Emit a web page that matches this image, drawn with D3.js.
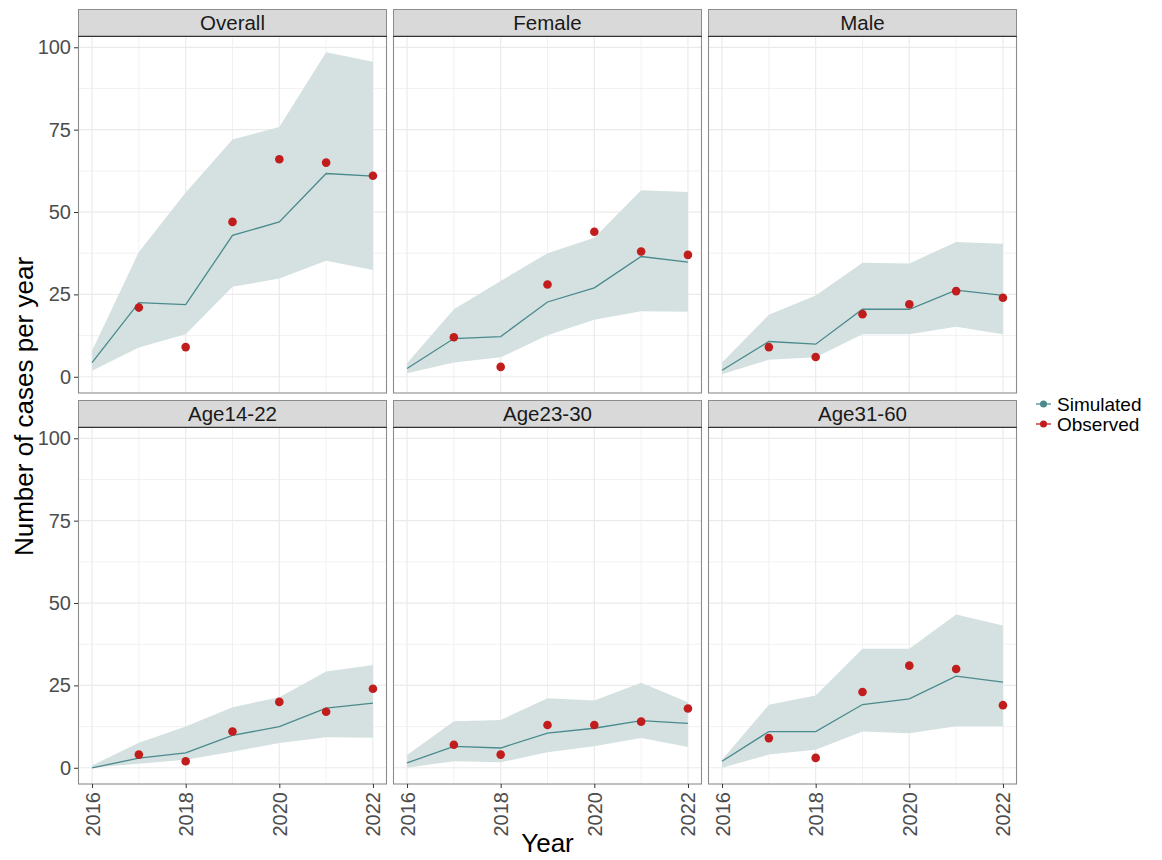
<!DOCTYPE html>
<html>
<head>
<meta charset="utf-8">
<script src="https://cdn.jsdelivr.net/npm/d3@7"></script>
<style>
	body { margin: 0; background: #fff; }
	text { font-family: "Liberation Sans", Arial, sans-serif; }
</style>
</head>
<body>
<div id="chart"></div>
<script>

var panels = ["Overall", "Female", "Male", "Age14-22", "Age23-30", "Age31-60"]
var years = [2016, 2017, 2018, 2019, 2020, 2021, 2022]
var obsYears = [2017, 2018, 2019, 2020, 2021, 2022]
var xTicks = [2016, 2018, 2020, 2022]
var yTicks = [0, 25, 50, 75, 100]

// one row per panel, same order as panels
var simMedian = [
	[4.3, 22.5, 21.9, 42.9, 47.0, 61.7, 60.9],
	[2.5, 11.6, 12.2, 22.7, 27.0, 36.5, 34.8],
	[2.0, 10.7, 9.9, 20.5, 20.5, 26.3, 24.7],
	[0.0, 2.9, 4.5, 9.8, 12.5, 18.1, 19.6],
	[1.5, 6.5, 6.0, 10.5, 12.0, 14.3, 13.5],
	[2.0, 11.0, 11.0, 19.2, 20.9, 27.8, 26.0]
]
var simLower = [
	[1.8, 8.9, 12.9, 27.3, 29.8, 35.2, 32.4],
	[1.1, 4.3, 5.9, 12.6, 17.3, 19.9, 19.7],
	[0.8, 5.2, 5.9, 12.9, 12.9, 15.2, 12.9],
	[0.0, 1.2, 2.4, 4.9, 7.5, 9.3, 9.1],
	[0.0, 2.0, 1.7, 4.7, 6.5, 9.0, 6.3],
	[0.0, 4.0, 5.5, 11.0, 10.5, 12.6, 12.6]
]
var simUpper = [
	[7.9, 37.9, 55.9, 72.0, 75.8, 98.5, 95.6],
	[4.1, 20.5, 29.1, 37.5, 42.2, 56.6, 56.1],
	[4.3, 18.8, 24.7, 34.6, 34.4, 40.9, 40.4],
	[0.7, 7.6, 12.5, 18.4, 21.4, 29.2, 31.2],
	[3.9, 14.1, 14.5, 21.1, 20.4, 25.8, 19.9],
	[2.4, 19.1, 21.9, 36.1, 36.1, 46.5, 43.2]
]
var observed = [
	[21, 9, 47, 66, 65, 61],
	[12, 3, 28, 44, 38, 37],
	[9, 6, 19, 22, 26, 24],
	[4, 2, 11, 20, 17, 24],
	[7, 4, 13, 13, 14, 18],
	[9, 3, 23, 31, 30, 19]
]

var width = 1162
var height = 860

var simColour = "#4a8a8c"
var ribbonColour = "#d5e1e1"
var obsColour = "#c21d1d"

var left0 = 78
var panelW = 309
var gapX = 6
var stripH = 27
var plotH = 357
var rowTops = [9, 400]

var svg = d3.select("#chart").append("svg")
	.attr("width", width)
	.attr("height", height)

// shared scales with ggplot-style 5% expansion
var yMax = d3.max(simUpper, d => d3.max(d))
var yMin = d3.min(simLower, d => d3.min(d))
var ySpan = yMax - yMin
var xSpan = d3.max(years) - d3.min(years)

var x = d3.scaleLinear()
	.domain([d3.min(years) - xSpan * 0.05, d3.max(years) + xSpan * 0.05])
	.range([0, panelW])

var y = d3.scaleLinear()
	.domain([yMin - ySpan * 0.05, yMax + ySpan * 0.05])
	.range([plotH, 0])

var xMinor = [2017, 2019, 2021]
var yMinor = [12.5, 37.5, 62.5, 87.5]

panels.forEach(function(name, i) {
	var col = i % 3
	var row = Math.floor(i / 3)
	var px = left0 + col * (panelW + gapX)
	var py = rowTops[row]

	// strip
	svg.append("rect")
		.attr("x", px + 0.5)
		.attr("y", py + 0.5)
		.attr("width", panelW - 1)
		.attr("height", stripH)
		.attr("fill", "#d9d9d9")
		.attr("stroke", "#8c8c8c")
		.attr("stroke-width", 1)

	svg.append("text")
		.attr("x", px + panelW / 2)
		.attr("y", py + stripH / 2 + 7.5)
		.attr("text-anchor", "middle")
		.attr("font-size", 20.5)
		.attr("fill", "#1a1a1a")
		.text(name)

	var g = svg.append("g")
		.attr("transform", "translate(" + px + "," + (py + stripH) + ")")

	// grid
	g.selectAll(".gy")
		.data(yTicks.concat(yMinor))
		.enter().append("line")
		.attr("x1", 0).attr("x2", panelW)
		.attr("y1", d => y(d)).attr("y2", d => y(d))
		.attr("stroke", "#ebebeb")
		.attr("stroke-width", d => yTicks.includes(d) ? 1.2 : 0.7)

	g.selectAll(".gx")
		.data(xTicks.concat(xMinor))
		.enter().append("line")
		.attr("y1", 0).attr("y2", plotH)
		.attr("x1", d => x(d)).attr("x2", d => x(d))
		.attr("stroke", "#ebebeb")
		.attr("stroke-width", d => xTicks.includes(d) ? 1.2 : 0.7)

	var rows = years.map(function(yr, j) {
		return {year: yr, med: simMedian[i][j], lo: simLower[i][j], hi: simUpper[i][j]}
	})

	g.append("path")
		.datum(rows)
		.attr("fill", ribbonColour)
		.attr("d", d3.area()
			.x(d => x(d.year))
			.y0(d => y(d.lo))
			.y1(d => y(d.hi)))

	g.append("path")
		.datum(rows)
		.attr("fill", "none")
		.attr("stroke", simColour)
		.attr("stroke-width", 1.3)
		.attr("d", d3.line()
			.x(d => x(d.year))
			.y(d => y(d.med)))

	g.selectAll(".obs")
		.data(obsYears.map((yr, j) => ({year: yr, value: observed[i][j]})))
		.enter().append("circle")
		.attr("cx", d => x(d.year))
		.attr("cy", d => y(d.value))
		.attr("r", 4.3)
		.attr("fill", obsColour)

	// panel border and strip underline
	g.append("rect")
		.attr("x", 0.5)
		.attr("y", 0)
		.attr("width", panelW - 1)
		.attr("height", plotH)
		.attr("fill", "none")
		.attr("stroke", "#8c8c8c")
		.attr("stroke-width", 1.1)

	svg.append("line")
		.attr("x1", px).attr("x2", px + panelW)
		.attr("y1", py + stripH + 0.5).attr("y2", py + stripH + 0.5)
		.attr("stroke", "#333")
		.attr("stroke-width", 1.2)

	// y axis only on left column
	if (col === 0) {
		var yAxis = g.append("g")
			.call(d3.axisLeft(y).tickValues(yTicks).tickSize(4).tickPadding(3))
		yAxis.select(".domain").remove()
		yAxis.selectAll("line").attr("stroke", "#333")
		yAxis.selectAll("text")
			.attr("font-size", 20)
			.attr("fill", "#4d4d4d")
	}

	// x axis only on bottom row
	if (row === 1) {
		var xAxis = g.append("g")
			.attr("transform", "translate(0," + plotH + ")")
			.call(d3.axisBottom(x).tickValues(xTicks).tickFormat(d3.format("d")).tickSize(4).tickPadding(3))
		xAxis.select(".domain").remove()
		xAxis.selectAll("line").attr("stroke", "#333")
		xAxis.selectAll("text")
			.attr("font-size", 20)
			.attr("fill", "#4d4d4d")
			.attr("transform", "rotate(-90)")
			.attr("text-anchor", "end")
			.attr("x", -8)
			.attr("y", 0)
			.attr("dy", "0.35em")
	}
})

// axis titles
svg.append("text")
	.attr("x", left0 + (3 * panelW + 2 * gapX) / 2)
	.attr("y", 852)
	.attr("text-anchor", "middle")
	.attr("font-size", 26)
	.attr("fill", "#000")
	.text("Year")

svg.append("text")
	.attr("transform", "translate(33," + ((rowTops[0] + rowTops[1] + stripH + plotH) / 2 + 10) + ") rotate(-90)")
	.attr("text-anchor", "middle")
	.attr("font-size", 26)
	.attr("fill", "#000")
	.text("Number of cases per year")

// legend
var legendItems = [
	{label: "Simulated", colour: simColour},
	{label: "Observed", colour: obsColour}
]

var legend = svg.append("g")
	.attr("transform", "translate(1036,404)")

var li = legend.selectAll("g")
	.data(legendItems)
	.enter().append("g")
	.attr("transform", (d, i) => "translate(0," + i * 20 + ")")

li.append("line")
	.attr("x1", 0).attr("x2", 15)
	.attr("stroke", d => d.colour)
	.attr("stroke-width", 1.3)

li.append("circle")
	.attr("cx", 7.5)
	.attr("r", 3.5)
	.attr("fill", d => d.colour)

li.append("text")
	.attr("x", 21)
	.attr("dy", "0.35em")
	.attr("font-size", 19)
	.attr("fill", "#000")
	.text(d => d.label)

</script>
</body>
</html>
